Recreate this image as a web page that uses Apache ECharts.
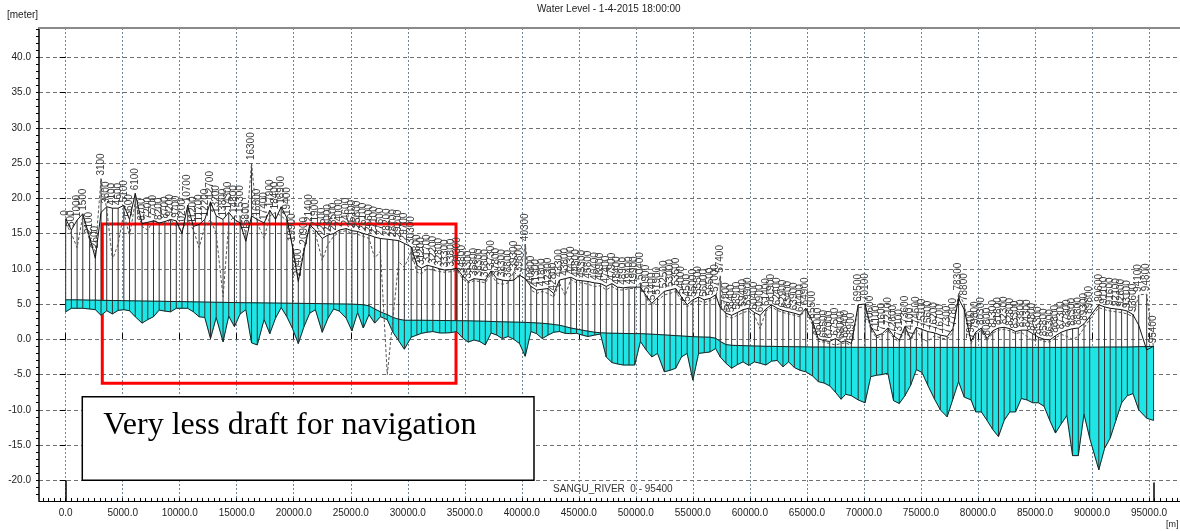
<!DOCTYPE html>
<html><head><meta charset="utf-8">
<script src="https://cdn.jsdelivr.net/npm/echarts@6/dist/echarts.min.js"></script>
<style>html,body{margin:0;padding:0;background:#fff}#c{width:1180px;height:531px}</style>
</head><body><div id="c"></div>
<script>
// Cross-section chainages [m]
const chainage = [
0,500,1000,1500,2100,2600,3100,3600,4100,4600,
5100,5600,6100,6700,7200,7700,8200,8700,9200,9700,
10200,10700,11200,11700,12200,12700,13200,13800,14300,14800,
15300,15800,16300,16800,17400,17900,18400,18900,19400,19900,
20400,20900,21400,21900,22500,23000,23500,24000,24600,25100,
25600,26100,26600,27100,27600,28200,28700,29200,29700,
30300,30800,31200,31700,32200,32800,33300,33800,34300,34800,
35300,35800,36300,36800,37300,37800,38300,38800,39300,39800,
40300,40800,41300,41800,42300,42800,43300,43800,44300,44800,
45300,45800,46400,46900,47400,47900,48400,48900,49400,49900,
50400,50900,51400,51900,52500,53000,53500,54000,54500,55000,
55500,56000,56500,57000,57400,57900,58400,58900,59400,59900,
60400,60900,61400,61900,62400,62900,63400,63900,64400,64900,
65500,66000,66500,67000,67500,68000,68400,68900,69500,
70100,70600,71100,71600,72100,72600,73100,73600,74100,74600,
75100,75600,76200,76700,77300,77800,78300,78800,79400,79800,
80300,80800,81300,81800,82300,82800,83300,83800,84300,84800,
85300,85800,86300,86800,87300,87800,88300,88800,89300,89800,
90600,91100,91600,92100,92600,93100,93600,94100,94800,95400];

// Bank level (solid line) [meter]
const bankLeft = [
17.1,15.5,16.9,17.8,14.5,11.5,18.0,18.8,18.6,18.6,
19.0,17.0,20.7,16.4,16.6,16.8,16.5,16.7,17.0,16.8,
15.0,19.0,16.0,16.3,17.0,19.5,17.5,17.0,18.0,17.0,
16.5,13.9,17.5,17.0,16.5,18.3,17.0,18.8,17.2,13.0,
8.2,12.5,16.2,15.5,14.3,14.8,15.0,15.5,15.7,15.4,
15.3,15.0,14.8,14.5,14.3,14.2,14.1,14.0,13.6,
13.1,10.5,10.1,10.5,10.3,10.0,9.8,9.9,10.1,9.0,
8.2,8.6,8.5,8.4,9.7,8.6,8.4,8.3,8.4,9.1,
8.6,7.5,7.0,7.1,7.2,6.5,8.4,8.6,8.8,8.4,
8.3,8.2,8.0,7.9,7.5,7.9,7.4,7.3,7.4,7.4,
7.4,6.2,5.1,5.9,6.8,7.0,7.2,6.0,4.9,5.6,
6.0,5.6,5.8,6.3,4.5,3.7,3.4,3.8,4.2,4.4,
3.8,3.4,4.3,4.9,4.4,4.1,3.9,3.7,3.45,4.4,
2.5,0.1,-0.2,-0.3,0.1,-0.4,-0.2,-0.6,4.9,
5.0,1.8,0.5,0.8,1.6,0.5,-0.1,1.8,0.1,1.7,
1.4,1.1,0.9,0.6,0.4,1.5,5.8,4.2,-0.3,1.0,
1.6,0.1,1.2,1.6,1.7,1.5,1.1,1.3,1.3,0.8,
0.3,0.0,-0.1,0.5,1.0,1.3,1.5,1.6,2.2,3.2,
4.9,4.6,4.4,4.3,4.2,4.0,3.5,2.0,-1.5,-1.0];

// Second bank level (dashed line) [meter]
const bankRight = [
16.5,15.0,13.0,17.5,14.0,12.5,22.8,18.5,11.3,13.5,
18.0,14.6,19.5,16.0,15.5,16.9,16.5,16.3,17.0,16.0,
15.5,17.0,15.5,13.0,16.0,17.0,15.0,6.0,16.5,17.5,
17.5,15.0,25.0,16.5,14.3,17.5,18.0,17.5,16.8,13.5,
8.5,13.0,16.0,15.0,11.2,13.5,14.6,15.2,15.4,15.0,
14.9,14.6,14.3,11.5,12.5,-5.0,3.0,11.0,10.2,
12.5,9.5,9.3,10.0,9.8,9.6,9.5,9.6,9.8,8.6,
8.0,8.3,8.2,8.0,9.3,8.0,7.8,8.0,9.6,8.7,
13.5,7.0,6.5,6.8,6.5,6.0,8.0,6.2,8.5,8.0,
8.0,7.8,7.5,7.6,7.0,7.5,7.0,7.0,7.2,7.2,
8.0,5.8,4.8,5.5,6.3,6.5,6.8,5.5,4.6,5.2,
5.5,5.2,5.5,5.9,9.0,3.3,3.0,3.4,3.8,4.0,
3.4,1.5,4.0,4.6,4.1,3.8,3.6,3.4,3.2,4.2,
2.0,-0.3,-0.4,-0.6,-0.8,-0.6,-0.5,-0.9,4.5,
4.6,1.4,0.2,0.5,1.3,0.2,-0.4,1.5,-0.2,1.4,
0.0,-0.3,0.5,0.2,0.0,1.0,6.5,5.0,-0.6,0.7,
1.3,-0.2,0.9,1.3,1.4,1.2,0.8,1.0,0.4,-0.2,
0.0,-0.3,-0.4,0.2,0.7,0.4,0.0,0.4,1.6,2.8,
4.5,4.2,4.0,3.9,3.8,3.6,3.2,6.3,6.4,-1.2];

// River bed level [meter]
const bedLevel = [
3.9,4.4,4.4,4.4,4.3,4.2,3.4,4.05,3.6,4.1,
4.2,4.05,3.2,2.3,2.8,3.2,4.15,4.0,3.9,4.4,
4.4,4.4,3.9,3.2,3.1,0.1,3.1,-0.35,3.3,1.8,
3.6,4.2,-0.5,-0.8,2.8,0.8,3.0,4.5,3.2,1.5,
-0.6,1.8,3.7,4.2,1.0,3.0,4.3,4.0,3.0,1.2,
3.8,1.6,3.5,2.3,3.2,2.8,1.0,-0.2,-1.4,
0.3,0.6,0.85,1.0,1.1,0.9,0.9,0.95,1.1,0.2,
-0.4,-0.1,-0.3,-0.8,0.9,0.6,0.1,0.4,0.0,-0.6,
-2.4,1.1,0.8,0.1,0.6,1.0,1.1,0.85,0.8,0.85,
0.6,0.4,0.6,0.75,-2.5,-3.3,-3.5,-3.65,-3.65,-3.65,
-0.3,-1.5,-2.5,-2.0,-4.6,-4.4,-4.1,-2.5,-2.0,-5.8,
-2.0,-1.9,-1.8,-1.3,-2.5,-3.4,-4.1,-3.6,-3.2,-3.7,
-3.2,-3.4,-3.65,-3.1,-3.0,-3.9,-3.2,-4.0,-4.4,-4.6,
-5.2,-6.0,-6.2,-6.6,-7.5,-8.5,-7.8,-8.0,-8.6,
-9.0,-5.3,-5.1,-5.0,-4.8,-8.7,-9.1,-8.0,-6.5,-4.3,
-4.7,-6.5,-8.5,-10.0,-11.0,-8.5,-6.0,-8.2,-8.6,-10.3,
-10.3,-11.5,-12.8,-13.8,-11.5,-10.3,-10.3,-8.4,-8.6,-9.0,
-9.0,-9.5,-11.5,-13.3,-12.0,-10.8,-16.5,-16.5,-10.6,-14.0,
-18.5,-15.5,-14.0,-11.5,-9.0,-8.0,-7.7,-10.0,-11.2,-11.5];

// Water level 1-4-2015 18:00 [meter]
const waterLevel = [
5.6,5.6,5.6,5.58,5.56,5.55,5.53,5.52,5.5,5.5,
5.48,5.46,5.45,5.43,5.42,5.4,5.4,5.38,5.37,5.36,
5.35,5.33,5.31,5.3,5.28,5.27,5.25,5.24,5.22,5.21,
5.2,5.19,5.18,5.17,5.16,5.15,5.14,5.13,5.12,5.11,
5.1,5.09,5.08,5.07,5.05,5.04,5.02,5.01,5.0,4.98,
4.95,4.9,4.75,4.3,3.9,3.5,3.1,2.85,2.7,
2.7,2.7,2.7,2.69,2.68,2.67,2.66,2.65,2.64,2.63,
2.62,2.6,2.58,2.56,2.53,2.5,2.48,2.46,2.44,2.42,
2.4,2.36,2.32,2.27,2.2,2.1,2.0,1.8,1.6,1.45,
1.3,1.15,1.0,0.92,0.88,0.86,0.85,0.83,0.82,0.8,
0.8,0.76,0.72,0.68,0.62,0.57,0.52,0.47,0.42,0.37,
0.34,0.31,0.3,0.15,-0.3,-0.75,-0.85,-0.88,-0.9,-0.93,
-0.95,-0.97,-1.0,-1.0,-1.02,-1.03,-1.05,-1.06,-1.07,-1.08,
-1.1,-1.1,-1.1,-1.12,-1.12,-1.13,-1.13,-1.13,-1.14,
-1.14,-1.15,-1.15,-1.15,-1.15,-1.15,-1.15,-1.15,-1.15,-1.15,
-1.15,-1.15,-1.15,-1.15,-1.15,-1.15,-1.15,-1.15,-1.15,-1.15,
-1.15,-1.15,-1.15,-1.15,-1.15,-1.15,-1.15,-1.15,-1.15,-1.15,
-1.15,-1.15,-1.15,-1.15,-1.15,-1.14,-1.14,-1.13,-1.13,-1.12,
-1.12,-1.1,-1.1,-1.1,-1.1,-1.1,-1.08,-1.05,-1.03,-1.0];

const xTickLabels = [0,5000,10000,15000,20000,25000,30000,35000,40000,45000,50000,55000,60000,65000,70000,75000,80000,85000,90000,95000];
const yTickLabels = [-20,-15,-10,-5,0,5,10,15,20,25,30,35,40];

const X_MIN = -2340, X_MAX = 97720, Y_MIN = -22.94, Y_MAX = 44.16;
const CYAN = '#1ee6e6';
const FONT = '"Liberation Sans", Arial, sans-serif';

const xMinor = []; for (let v = -2000; v <= X_MAX; v += 500) xMinor.push(v);
const yMinor = []; for (let v = -22; v <= 44; v += 1) yMinor.push(v);

const rows = chainage.map((c, i) => [c, bedLevel[i], waterLevel[i], bankLeft[i], bankRight[i]]);
const pairs = arr => chainage.map((c, i) => [c, arr[i]]);

const chart = echarts.init(document.getElementById('c'), null, {renderer: 'canvas'});
chart.setOption({
  animation: false,
  backgroundColor: '#fff',
  title: [
    {text: 'Water Level - 1-4-2015 18:00:00', left: 537, top: 4, padding: 0,
     textStyle: {fontSize: 10, fontWeight: 'normal', color: '#222', fontFamily: FONT}},
    {text: '[meter]', left: 7, top: 10, padding: 0,
     textStyle: {fontSize: 10, fontWeight: 'normal', color: '#222', fontFamily: FONT}},
    {text: '[m]', left: 1166, top: 520, padding: 0,
     textStyle: {fontSize: 9, fontWeight: 'normal', color: '#222', fontFamily: FONT}}
  ],
  grid: {left: 39, right: 0, top: 28, bottom: 30, containLabel: false},
  xAxis: [
    {type: 'value', min: X_MIN, max: X_MAX, position: 'bottom',
     axisLine: {show: true, onZero: false, lineStyle: {color: '#000', width: 1}},
     axisTick: {show: true, inside: true, length: 3, customValues: xMinor, lineStyle: {color: '#000'}},
     axisLabel: {customValues: xTickLabels, formatter: v => v.toFixed(1), margin: 7,
                 fontSize: 10, color: '#222', fontFamily: FONT},
     splitLine: {show: false}},
    {type: 'value', min: X_MIN, max: X_MAX, position: 'bottom',
     axisLine: {show: false},
     axisTick: {show: true, inside: true, length: 6, customValues: xTickLabels, lineStyle: {color: '#000'}},
     axisLabel: {show: false},
     splitLine: {show: true, lineStyle: {color: '#6f8796', width: 1, type: [2, 2]}}},
    {type: 'value', min: X_MIN, max: X_MAX, position: 'top',
     axisLine: {show: true, onZero: false, lineStyle: {color: '#8a8a8a', width: 2}},
     axisTick: {show: false}, axisLabel: {show: false}, splitLine: {show: false}}
  ],
  yAxis: [
    {type: 'value', min: Y_MIN, max: Y_MAX, position: 'left',
     axisLine: {show: true, onZero: false, lineStyle: {color: '#000', width: 1.5}},
     axisTick: {show: true, inside: false, length: 3, customValues: yMinor, lineStyle: {color: '#000'}},
     axisLabel: {customValues: yTickLabels, formatter: v => v.toFixed(1), margin: 8,
                 fontSize: 10, color: '#222', fontFamily: FONT},
     splitLine: {show: false}},
    {type: 'value', min: Y_MIN, max: Y_MAX, position: 'left',
     axisLine: {show: false},
     axisTick: {show: true, inside: false, length: 6, customValues: yTickLabels, lineStyle: {color: '#000'}},
     axisLabel: {show: false},
     splitLine: {show: true, lineStyle: {color: '#707070', width: 1, type: [4, 3]}}}
  ],
  series: [
    {
      name: 'wet', type: 'custom', z: 1, clip: true, silent: true,
      data: rows, encode: {x: 0, y: [1, 2]},
      renderItem: (params, api) => {
        const i = params.dataIndex;
        if (i >= chainage.length - 1) return null;
        const p1 = api.coord([chainage[i], waterLevel[i]]);
        const p2 = api.coord([chainage[i + 1], waterLevel[i + 1]]);
        const p3 = api.coord([chainage[i + 1], bedLevel[i + 1]]);
        const p4 = api.coord([chainage[i], bedLevel[i]]);
        return {type: 'polygon', shape: {points: [p1, p2, p3, p4]},
                style: {fill: CYAN, stroke: CYAN, lineWidth: 0.8}};
      }
    },
    {
      name: 'sections', type: 'custom', z: 3, clip: false, silent: true,
      data: rows, encode: {x: 0, y: [1, 3]},
      renderItem: (params, api) => {
        const x = api.value(0);
        const top = Math.max(api.value(3), api.value(4));
        const pb = api.coord([x, api.value(1)]);
        const pt = api.coord([x, top]);
        return {type: 'group', children: [
          {type: 'line', shape: {x1: pb[0], y1: pb[1], x2: pt[0], y2: pt[1]},
           style: {stroke: '#333', lineWidth: 1}},
          {type: 'text', x: pt[0], y: pt[1] - 3, rotation: Math.PI / 2,
           style: {text: String(x), fill: '#3c3c3c', font: '10px ' + FONT,
                   align: 'left', verticalAlign: 'middle'}}
        ]};
      }
    },
    {name: 'Bed', type: 'line', z: 4, data: pairs(bedLevel), symbol: 'none', silent: true,
     lineStyle: {color: '#222', width: 1}},
    {name: 'Water', type: 'line', z: 4, data: pairs(waterLevel), symbol: 'none', silent: true,
     lineStyle: {color: '#222', width: 1}},
    {name: 'Bank2', type: 'line', z: 4, data: pairs(bankRight), symbol: 'none', silent: true,
     lineStyle: {color: '#555', width: 1, type: [3, 2]}},
    {name: 'Bank1', type: 'line', z: 5, data: pairs(bankLeft), symbol: 'none', silent: true,
     lineStyle: {color: '#111', width: 1}},
    {
      name: 'annot', type: 'line', z: 10, data: [], silent: true,
      markArea: {
        silent: true,
        data: [
          [{coord: [3210, 16.35], itemStyle: {color: 'rgba(0,0,0,0)', borderColor: '#ff0000', borderWidth: 3},
            label: {show: false}},
           {coord: [34230, -6.24]}],
          [{coord: [1456, -8.14], itemStyle: {color: '#ffffff', borderColor: '#000', borderWidth: 1.5},
            label: {show: true, formatter: 'Very less draft for navigation', position: ['4.8%', '35%'],
                    align: 'left', verticalAlign: 'middle', fontSize: 32, color: '#000',
                    fontFamily: '"Liberation Serif", "Times New Roman", serif'}},
           {coord: [41068, -20.0]}]
        ]
      },
      markLine: {
        silent: true, symbol: 'none', label: {show: false},
        lineStyle: {color: '#000', width: 1.5, type: 'solid'},
        data: [
          [{coord: [0, Y_MIN]}, {coord: [0, -20.0]}],
          [{coord: [95400, Y_MIN]}, {coord: [95400, -20.3]}]
        ]
      },
      markPoint: {
        silent: true, symbol: 'rect', symbolSize: 0,
        data: [{coord: [42745, -21.3], value: 0,
                label: {show: true, position: 'right', distance: 0, formatter: 'SANGU_RIVER  0 - 95400',
                        fontSize: 10, color: '#333', fontFamily: FONT}}]
      }
    }
  ]
});
</script>
</body></html>
